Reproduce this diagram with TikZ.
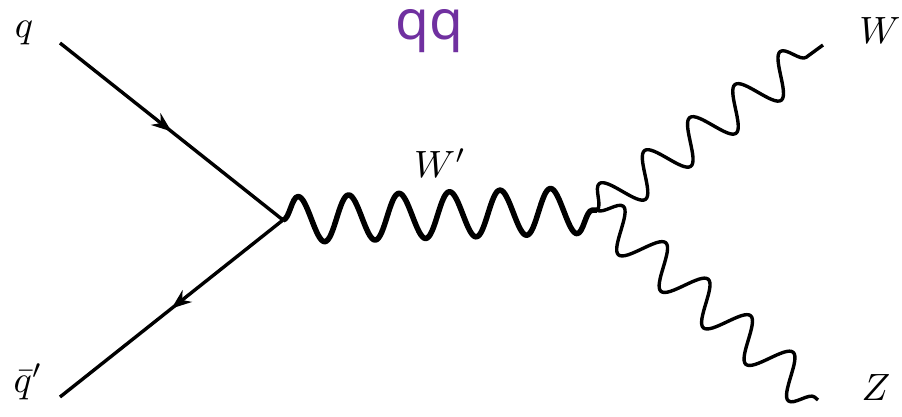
\documentclass[tikz,border=0pt]{standalone}
\usepackage{graphicx}
\usepackage{fontspec}
\newfontfamily\qqfont{Noto Sans}
\usetikzlibrary{decorations.pathmorphing,decorations.markings,arrows.meta}
\definecolor{qqpurple}{RGB}{112,48,160}
\newcommand{\biglbl}[1]{\scalebox{3.8}{$#1$}}
\begin{document}
\begin{tikzpicture}[x=1pt,y=1pt,
  fermion/.style={line width=3.4pt, postaction={decorate},
    decoration={markings, mark=at position 0.5 with {\arrow{Stealth[length=20pt,width=15pt]}}}},
  bosonthick/.style={line width=5.5pt, line join=round, decorate,
    decoration={snake, segment length=50.5pt, amplitude=23pt}},
  boson/.style={line width=3.4pt, line join=round, decorate,
    decoration={snake, segment length=56pt, amplitude=20pt}},
  lbl/.style={inner sep=0pt, anchor=base, font=\fontsize{10}{12}\selectfont}]
\useasboundingbox (0,0) rectangle (902,-416);
\coordinate (qin) at (60,-43);
\coordinate (qbin) at (60,-397);
\coordinate (v1) at (283,-220);
\coordinate (v2) at (597,-210);
\coordinate (wout) at (823,-45);
\coordinate (zout) at (818,-400);
\draw[fermion] (qin) -- (v1);
\draw[fermion] (v1) -- (qbin);
\draw[bosonthick] (v1) -- (v2);
\draw[boson] (v2) -- (wout);
\draw[boson] (v2) -- (zout);
\node[lbl] (lq) at (24,-37) {\biglbl{q}};
\node[lbl] (lqb) at (28,-392) {\biglbl{\bar{q}'}};
\node[lbl] (lwp) at (440,-177) {\biglbl{W'}};
\node[lbl] (lw) at (880,-43) {\biglbl{W}};
\node[lbl] (lz) at (876,-400) {\biglbl{Z}};
\node[inner sep=0pt, anchor=base, text=qqpurple, font=\qqfont\fontsize{55}{60}\selectfont] (title) at (429,-39) {qq};
\end{tikzpicture}
\end{document}
